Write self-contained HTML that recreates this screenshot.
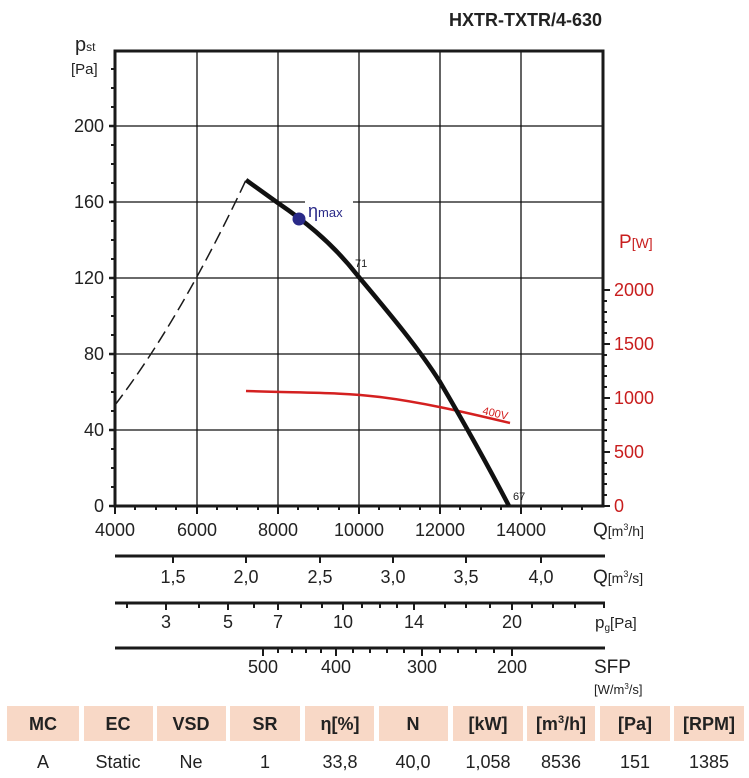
<!DOCTYPE html>
<html><head><meta charset="utf-8"><style>
body{margin:0;background:#fff;}
svg{display:block;font-family:"Liberation Sans",Arial,sans-serif;}
</style></head><body>
<svg width="749" height="778" viewBox="0 0 749 778" xmlns="http://www.w3.org/2000/svg">
<text x="602" y="26" text-anchor="end" font-size="18" font-weight="bold" fill="#222">HXTR-TXTR/4-630</text>
<g stroke="#111" stroke-width="1.3">
<line x1="197" y1="51" x2="197" y2="506"/><line x1="278" y1="51" x2="278" y2="506"/>
<line x1="359" y1="51" x2="359" y2="506"/><line x1="440" y1="51" x2="440" y2="506"/>
<line x1="521" y1="51" x2="521" y2="506"/>
<line x1="115" y1="126" x2="603" y2="126"/><line x1="115" y1="202" x2="603" y2="202"/>
<line x1="115" y1="278" x2="603" y2="278"/><line x1="115" y1="354" x2="603" y2="354"/>
<line x1="115" y1="430" x2="603" y2="430"/>
</g>
<rect x="305" y="196" width="48" height="12" fill="#fff"/>
<path d="M115 506 V51 H603 V506 Z" fill="none" stroke="#1a1a1a" stroke-width="3"/>
<g stroke="#1a1a1a" stroke-width="2.5">
<line x1="109" y1="506" x2="115" y2="506"/><line x1="109" y1="430" x2="115" y2="430"/><line x1="109" y1="354" x2="115" y2="354"/><line x1="109" y1="278" x2="115" y2="278"/><line x1="109" y1="202" x2="115" y2="202"/><line x1="109" y1="126" x2="115" y2="126"/>
</g>
<g stroke="#1a1a1a" stroke-width="2">
<line x1="111" y1="487" x2="115" y2="487"/><line x1="111" y1="468" x2="115" y2="468"/><line x1="111" y1="449" x2="115" y2="449"/>
<line x1="111" y1="411" x2="115" y2="411"/><line x1="111" y1="392" x2="115" y2="392"/><line x1="111" y1="373" x2="115" y2="373"/>
<line x1="111" y1="335" x2="115" y2="335"/><line x1="111" y1="316" x2="115" y2="316"/><line x1="111" y1="297" x2="115" y2="297"/>
<line x1="111" y1="259" x2="115" y2="259"/><line x1="111" y1="240" x2="115" y2="240"/><line x1="111" y1="221" x2="115" y2="221"/>
<line x1="111" y1="183" x2="115" y2="183"/><line x1="111" y1="164" x2="115" y2="164"/><line x1="111" y1="145" x2="115" y2="145"/>
<line x1="111" y1="107" x2="115" y2="107"/><line x1="111" y1="88" x2="115" y2="88"/><line x1="111" y1="69" x2="115" y2="69"/>
</g>
<g stroke="#1a1a1a" stroke-width="2">
<line x1="603" y1="506" x2="610" y2="506"/><line x1="603" y1="452" x2="610" y2="452"/><line x1="603" y1="398" x2="610" y2="398"/><line x1="603" y1="344" x2="610" y2="344"/><line x1="603" y1="290" x2="610" y2="290"/>
<line x1="603" y1="495" x2="607" y2="495"/><line x1="603" y1="484" x2="607" y2="484"/><line x1="603" y1="474" x2="607" y2="474"/><line x1="603" y1="463" x2="607" y2="463"/>
<line x1="603" y1="441" x2="607" y2="441"/><line x1="603" y1="430" x2="607" y2="430"/><line x1="603" y1="420" x2="607" y2="420"/><line x1="603" y1="409" x2="607" y2="409"/>
<line x1="603" y1="387" x2="607" y2="387"/><line x1="603" y1="376" x2="607" y2="376"/><line x1="603" y1="366" x2="607" y2="366"/><line x1="603" y1="355" x2="607" y2="355"/>
<line x1="603" y1="333" x2="607" y2="333"/><line x1="603" y1="322" x2="607" y2="322"/><line x1="603" y1="312" x2="607" y2="312"/><line x1="603" y1="301" x2="607" y2="301"/>
</g>
<g stroke="#1a1a1a" stroke-width="2">
<line x1="115" y1="506" x2="115" y2="514"/><line x1="197" y1="506" x2="197" y2="514"/><line x1="278" y1="506" x2="278" y2="514"/><line x1="359" y1="506" x2="359" y2="514"/><line x1="440" y1="506" x2="440" y2="514"/><line x1="521" y1="506" x2="521" y2="514"/>
<line x1="135" y1="506" x2="135" y2="510"/><line x1="156" y1="506" x2="156" y2="510"/><line x1="176" y1="506" x2="176" y2="510"/>
<line x1="217" y1="506" x2="217" y2="510"/><line x1="237" y1="506" x2="237" y2="510"/><line x1="258" y1="506" x2="258" y2="510"/>
<line x1="298" y1="506" x2="298" y2="510"/><line x1="318" y1="506" x2="318" y2="510"/><line x1="339" y1="506" x2="339" y2="510"/>
<line x1="379" y1="506" x2="379" y2="510"/><line x1="400" y1="506" x2="400" y2="510"/><line x1="420" y1="506" x2="420" y2="510"/>
<line x1="460" y1="506" x2="460" y2="510"/><line x1="481" y1="506" x2="481" y2="510"/><line x1="501" y1="506" x2="501" y2="510"/>
<line x1="541" y1="506" x2="541" y2="510"/><line x1="562" y1="506" x2="562" y2="510"/><line x1="582" y1="506" x2="582" y2="510"/>
</g>
<g font-size="18" fill="#222" text-anchor="end">
<text x="104" y="512">0</text><text x="104" y="436">40</text><text x="104" y="360">80</text><text x="104" y="284">120</text><text x="104" y="208">160</text><text x="104" y="132">200</text>
</g>
<text x="75" y="51" font-size="20" fill="#222">p<tspan font-size="12">st</tspan></text>
<text x="71" y="74" font-size="15" fill="#222">[Pa]</text>
<g font-size="18" fill="#c81e1e">
<text x="614" y="512">0</text><text x="614" y="458">500</text><text x="614" y="404">1000</text><text x="614" y="350">1500</text><text x="614" y="296">2000</text>
<text x="619" y="248" font-size="19">P<tspan font-size="14">[W]</tspan></text>
</g>
<g font-size="18" fill="#222" text-anchor="middle">
<text x="115" y="536">4000</text><text x="197" y="536">6000</text><text x="278" y="536">8000</text><text x="359" y="536">10000</text><text x="440" y="536">12000</text><text x="521" y="536">14000</text>
</g>
<text x="593" y="536" font-size="19" fill="#222">Q<tspan font-size="14">[m<tspan font-size="9" dy="-6">3</tspan><tspan dy="6">/h]</tspan></tspan></text>
<g stroke="#1a1a1a">
<line x1="115" y1="556" x2="605" y2="556" stroke-width="3"/>
<line x1="115" y1="603" x2="605" y2="603" stroke-width="3"/>
<line x1="115" y1="648" x2="605" y2="648" stroke-width="3"/>
</g>
<g stroke="#1a1a1a" stroke-width="2">
<line x1="173" y1="556" x2="173" y2="563"/><line x1="246" y1="556" x2="246" y2="563"/><line x1="320" y1="556" x2="320" y2="563"/><line x1="393" y1="556" x2="393" y2="563"/><line x1="466" y1="556" x2="466" y2="563"/><line x1="541" y1="556" x2="541" y2="563"/>
<line x1="127" y1="603" x2="127" y2="608"/><line x1="166" y1="603" x2="166" y2="610"/><line x1="199" y1="603" x2="199" y2="608"/><line x1="228" y1="603" x2="228" y2="610"/><line x1="254" y1="603" x2="254" y2="608"/><line x1="278" y1="603" x2="278" y2="610"/><line x1="301" y1="603" x2="301" y2="608"/><line x1="322" y1="603" x2="322" y2="608"/><line x1="343" y1="603" x2="343" y2="610"/><line x1="362" y1="603" x2="362" y2="608"/><line x1="380" y1="603" x2="380" y2="608"/><line x1="397" y1="603" x2="397" y2="608"/><line x1="414" y1="603" x2="414" y2="610"/><line x1="445" y1="603" x2="445" y2="608"/><line x1="466" y1="603" x2="466" y2="608"/><line x1="490" y1="603" x2="490" y2="608"/><line x1="512" y1="603" x2="512" y2="610"/><line x1="532" y1="603" x2="532" y2="608"/><line x1="553" y1="603" x2="553" y2="608"/><line x1="575" y1="603" x2="575" y2="608"/><line x1="604" y1="603" x2="604" y2="608"/>
<line x1="263" y1="648" x2="263" y2="656"/><line x1="336" y1="648" x2="336" y2="656"/><line x1="422" y1="648" x2="422" y2="656"/><line x1="512" y1="648" x2="512" y2="656"/>
<line x1="278" y1="648" x2="278" y2="653"/><line x1="292" y1="648" x2="292" y2="653"/><line x1="306" y1="648" x2="306" y2="653"/><line x1="321" y1="648" x2="321" y2="653"/>
<line x1="353" y1="648" x2="353" y2="653"/><line x1="370" y1="648" x2="370" y2="653"/><line x1="387" y1="648" x2="387" y2="653"/><line x1="404" y1="648" x2="404" y2="653"/>
<line x1="440" y1="648" x2="440" y2="653"/><line x1="458" y1="648" x2="458" y2="653"/><line x1="476" y1="648" x2="476" y2="653"/><line x1="494" y1="648" x2="494" y2="653"/>
</g>
<g font-size="18" fill="#222" text-anchor="middle">
<text x="173" y="583">1,5</text><text x="246" y="583">2,0</text><text x="320" y="583">2,5</text><text x="393" y="583">3,0</text><text x="466" y="583">3,5</text><text x="541" y="583">4,0</text>
<text x="166" y="628">3</text><text x="228" y="628">5</text><text x="278" y="628">7</text><text x="343" y="628">10</text><text x="414" y="628">14</text><text x="512" y="628">20</text>
<text x="263" y="673">500</text><text x="336" y="673">400</text><text x="422" y="673">300</text><text x="512" y="673">200</text>
</g>
<text x="593" y="583" font-size="19" fill="#222">Q<tspan font-size="14">[m<tspan font-size="9" dy="-6">3</tspan><tspan dy="6">/s]</tspan></tspan></text>
<text x="595" y="628" font-size="17" fill="#222">p<tspan font-size="10" dy="3">g</tspan><tspan font-size="15" dy="-3">[Pa]</tspan></text>
<text x="594" y="673" font-size="19" fill="#222">SFP</text>
<text x="594" y="694" font-size="13" fill="#222">[W/m<tspan font-size="8" dy="-5">3</tspan><tspan dy="5">/s]</tspan></text>
<path d="M115 405 Q 180 320 246 180" fill="none" stroke="#1a1a1a" stroke-width="1.5" stroke-dasharray="13,6"/>
<path d="M246 391 C 300 393, 340 392, 380 397 S 460 411, 510 423" fill="none" stroke="#d42020" stroke-width="2.5"/>
<path d="M246 180 L278 203 C 300 218, 330 240, 358 276 C 390 314, 420 350, 440 382 C 460 416, 485 460, 509 506" fill="none" stroke="#111" stroke-width="4.5" stroke-linejoin="round"/>
<circle cx="299" cy="219" r="6.5" fill="#2a2a88"/>
<text x="308" y="217" font-size="18" fill="#2a2a88">η<tspan font-size="13">max</tspan></text>
<text x="355" y="267" font-size="11" fill="#222">71</text>
<text x="513" y="500" font-size="11" fill="#222">67</text>
<text x="482" y="414" font-size="11" fill="#d42020" transform="rotate(13 482 414)">400V</text>
<g fill="#f8d8c6">
<rect x="7" y="706" width="72" height="35"/><rect x="84" y="706" width="69" height="35"/><rect x="157" y="706" width="69" height="35"/><rect x="230" y="706" width="70" height="35"/><rect x="305" y="706" width="69" height="35"/><rect x="379" y="706" width="69" height="35"/><rect x="453" y="706" width="70" height="35"/><rect x="527" y="706" width="68" height="35"/><rect x="600" y="706" width="70" height="35"/><rect x="674" y="706" width="70" height="35"/>
</g>
<g font-size="18" font-weight="bold" fill="#222" text-anchor="middle">
<text x="43" y="730">MC</text><text x="118" y="730">EC</text><text x="191" y="730">VSD</text><text x="265" y="730">SR</text><text x="340" y="730">η[%]</text><text x="413" y="730">N</text><text x="488" y="730">[kW]</text><text x="561" y="730">[m<tspan font-size="11" dy="-7">3</tspan><tspan dy="7">/h]</tspan></text><text x="635" y="730">[Pa]</text><text x="709" y="730">[RPM]</text>
</g>
<g font-size="18" fill="#222" text-anchor="middle">
<text x="43" y="768">A</text><text x="118" y="768">Static</text><text x="191" y="768">Ne</text><text x="265" y="768">1</text><text x="340" y="768">33,8</text><text x="413" y="768">40,0</text><text x="488" y="768">1,058</text><text x="561" y="768">8536</text><text x="635" y="768">151</text><text x="709" y="768">1385</text>
</g>
</svg>
</body></html>
